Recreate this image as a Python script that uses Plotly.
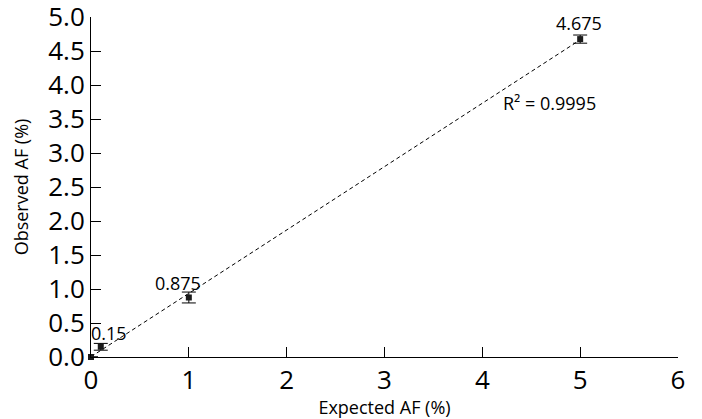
import numpy as np
import plotly.graph_objects as go

expected = [0, 0.1, 1, 5]
observed = [0, 0.15, 0.875, 4.675]
errors = [0, 0.05, 0.08, 0.06]
labels = ["", "0.15", "0.875", "4.675"]

slope, intercept = np.polyfit(expected, observed, 1)
fx = [0, 5]
fy = [intercept + slope * v for v in fx]

fig = go.Figure()
fig.add_trace(go.Scatter(x=fx, y=fy, mode="lines",
                         line=dict(color="black", width=1, dash="4px,3px"),
                         hoverinfo="skip", cliponaxis=False))
fig.add_trace(go.Scatter(x=expected, y=observed, mode="markers",
                         marker=dict(symbol="square", size=6, color="#1a1a1a"),
                         error_y=dict(type="data", array=errors, color="black",
                                      thickness=1, width=7),
                         cliponaxis=False))
for x, y, t, xs, ys in zip(expected, observed, labels, [0, 8, -11, -1], [0, 14, 15, 16]):
    if t:
        fig.add_annotation(x=x, y=y, text=t, showarrow=False, xshift=xs, yshift=ys,
                           font=dict(size=18, color="black", family="Open Sans"))
fig.add_annotation(x=4.69, y=3.73, text="R² = 0.9995", showarrow=False,
                   font=dict(size=18, color="black", family="Open Sans"))

fig.update_layout(
    width=694, height=411, showlegend=False,
    paper_bgcolor="white", plot_bgcolor="white",
    margin=dict(l=83, r=24, t=9, b=62),
    font=dict(family="Open Sans", color="black"),
    xaxis=dict(range=[0, 6], dtick=1, showgrid=False, zeroline=False,
               showline=True, linecolor="black", linewidth=1, automargin=False,
               ticks="inside", ticklen=10, tickcolor="black", ticklabeloverflow="allow",
               tickfont=dict(size=26), title=dict(text="Expected AF (%)", font=dict(size=18), standoff=12)),
    yaxis=dict(range=[0, 5], dtick=0.5, tickformat=".1f", showgrid=False, zeroline=False,
               showline=True, linecolor="black", linewidth=1, automargin=False,
               ticks="inside", ticklen=10, tickcolor="black", ticklabeloverflow="allow",
               tickfont=dict(size=26), title=dict(text="Observed AF (%)", font=dict(size=18), standoff=14)),
)
fig.write_html("out.html")
